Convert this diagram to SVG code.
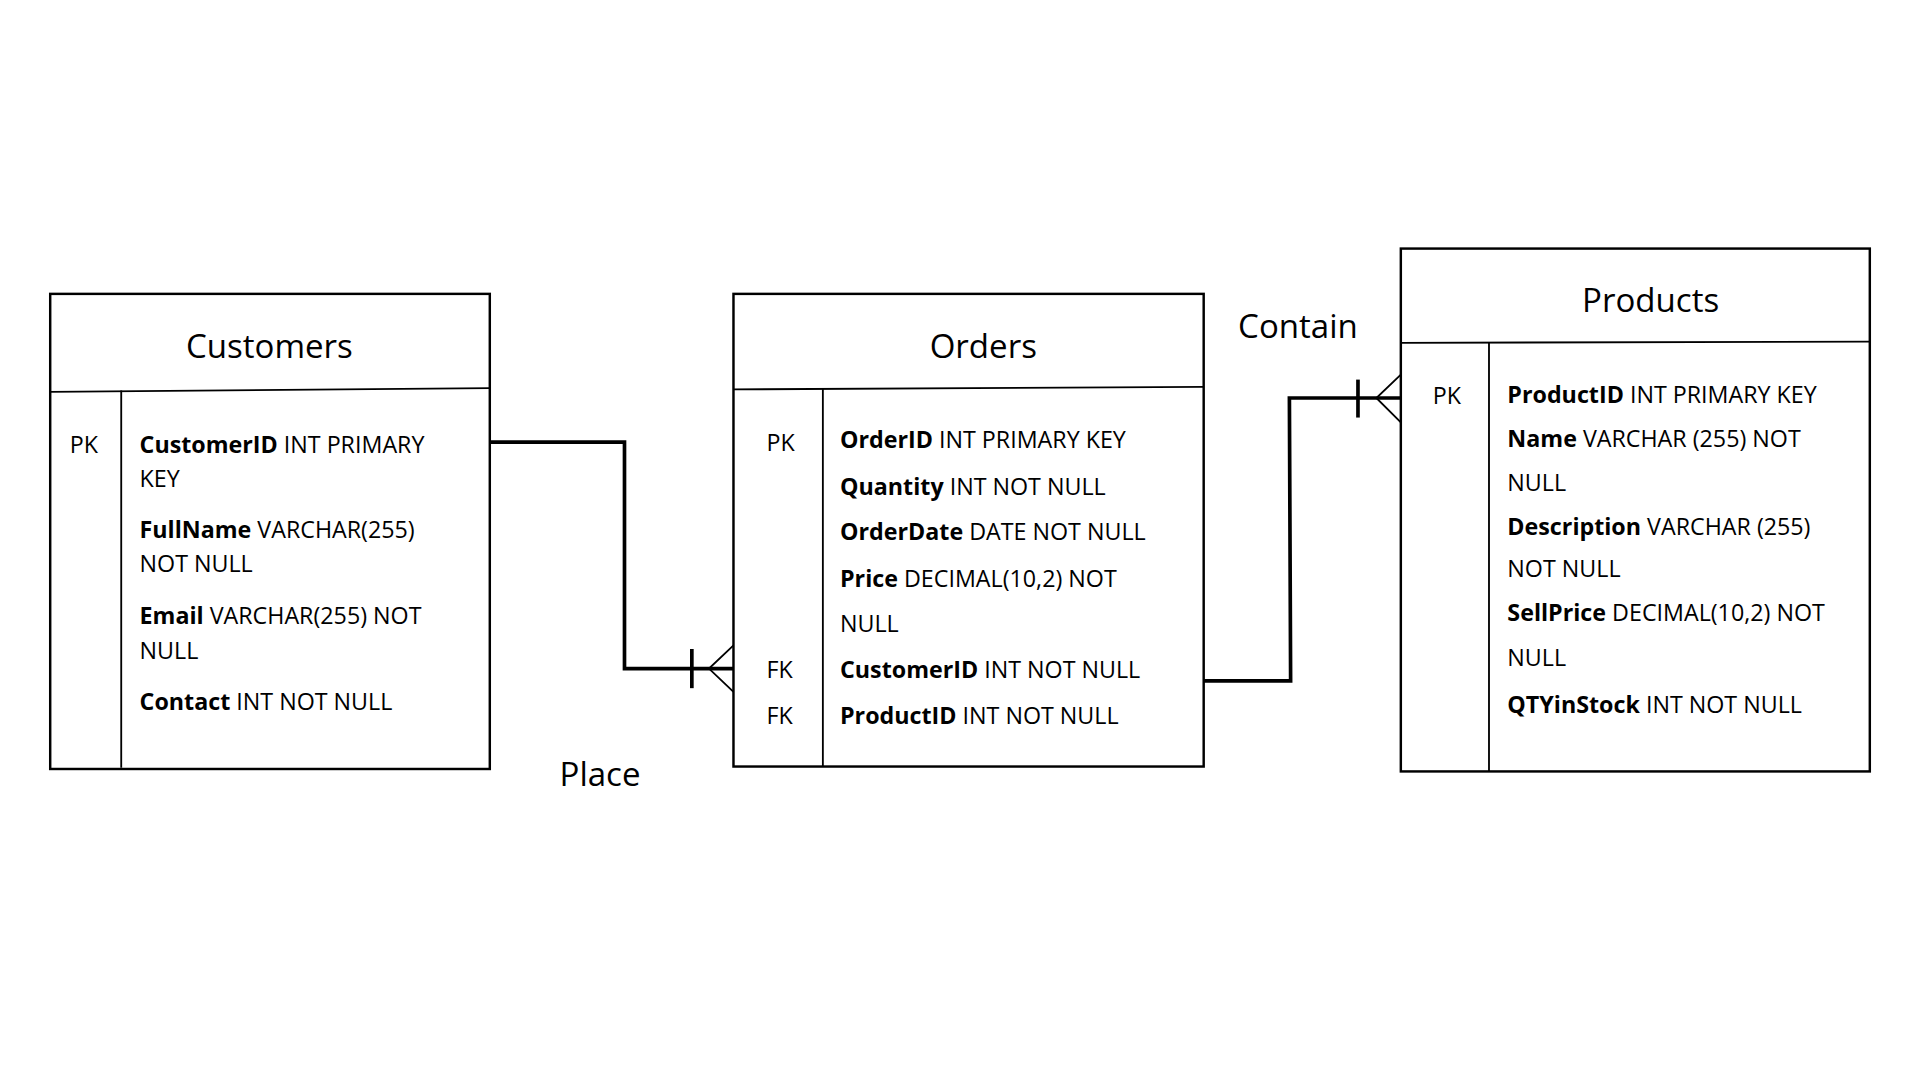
<svg xmlns="http://www.w3.org/2000/svg" width="1920" height="1080" viewBox="0 0 1920 1080">
<style>
.box{fill:#fff;stroke:#000;stroke-width:2}
.ln{stroke:#000;stroke-width:1.5;fill:none}
.t{font-family:"Open Sans","Liberation Sans",sans-serif;font-size:19px;fill:#000}
.b{font-weight:bold}
.h{font-family:"Open Sans","Liberation Sans",sans-serif;font-size:27px;fill:#000;text-anchor:middle}
.c{stroke:#000;stroke-width:3;fill:none}
.cf{stroke:#000;stroke-width:1.5;fill:none}
</style>
<rect width="1920" height="1080" fill="#fff"/>
<g transform="scale(1.2245)">
<g id="customers">
<rect class="box" x="41" y="240" width="359" height="388"/>
<line class="ln" x1="41" y1="320" x2="400" y2="317"/>
<line class="ln" x1="99" y1="319" x2="99" y2="627"/>
<text class="h" x="220" y="292">Customers</text>
<text class="t" x="57" y="370">PK</text>
<text class="t" x="114" y="370"><tspan class="b">CustomerID</tspan> INT PRIMARY</text>
<text class="t" x="114" y="398">KEY</text>
<text class="t" x="114" y="439"><tspan class="b">FullName</tspan> VARCHAR(255)</text>
<text class="t" x="114" y="467">NOT NULL</text>
<text class="t" x="114" y="510"><tspan class="b">Email</tspan> VARCHAR(255) NOT</text>
<text class="t" x="114" y="538">NULL</text>
<text class="t" x="114" y="580"><tspan class="b">Contact</tspan> INT NOT NULL</text>
</g>
<g id="orders">
<rect class="box" x="599" y="240" width="384" height="386"/>
<line class="ln" x1="599" y1="318" x2="983" y2="316"/>
<line class="ln" x1="672" y1="317" x2="672" y2="626"/>
<text class="h" x="803" y="292">Orders</text>
<text class="t" x="626" y="368">PK</text>
<text class="t" x="686" y="366"><tspan class="b">OrderID</tspan> INT PRIMARY KEY</text>
<text class="t" x="686" y="404"><tspan class="b">Quantity</tspan> INT NOT NULL</text>
<text class="t" x="686" y="441"><tspan class="b">OrderDate</tspan> DATE NOT NULL</text>
<text class="t" x="686" y="479"><tspan class="b">Price</tspan> DECIMAL(10,2) NOT</text>
<text class="t" x="686" y="516">NULL</text>
<text class="t" x="626" y="554">FK</text>
<text class="t" x="686" y="554"><tspan class="b">CustomerID</tspan> INT NOT NULL</text>
<text class="t" x="626" y="591">FK</text>
<text class="t" x="686" y="591"><tspan class="b">ProductID</tspan> INT NOT NULL</text>
</g>
<g id="products">
<rect class="box" x="1144" y="203" width="383" height="427"/>
<line class="ln" x1="1144" y1="280" x2="1527" y2="279"/>
<line class="ln" x1="1216" y1="280" x2="1216" y2="630"/>
<text class="h" x="1348" y="255">Products</text>
<text class="t" x="1170" y="330">PK</text>
<text class="t" x="1231" y="329"><tspan class="b">ProductID</tspan> INT PRIMARY KEY</text>
<text class="t" x="1231" y="365"><tspan class="b">Name</tspan> VARCHAR (255) NOT</text>
<text class="t" x="1231" y="401">NULL</text>
<text class="t" x="1231" y="437"><tspan class="b">Description</tspan> VARCHAR (255)</text>
<text class="t" x="1231" y="471">NOT NULL</text>
<text class="t" x="1231" y="507"><tspan class="b">SellPrice</tspan> DECIMAL(10,2) NOT</text>
<text class="t" x="1231" y="544">NULL</text>
<text class="t" x="1231" y="582"><tspan class="b">QTYinStock</tspan> INT NOT NULL</text>
</g>
<g id="connectors">
<polyline class="c" points="400,361 510,361 510,546 599,546"/>
<line class="c" x1="565" y1="530" x2="565" y2="562"/>
<polyline class="cf" points="599,527 579,546 599,565"/>
<polyline class="c" points="983,556 1054,556 1053,325 1144,325"/>
<line class="c" x1="1109" y1="310" x2="1109" y2="341"/>
<polyline class="cf" points="1144,306 1124,325 1144,345"/>
<text class="h" x="490" y="642">Place</text>
<text class="h" x="1060" y="276">Contain</text>
</g>
</g>
</svg>
